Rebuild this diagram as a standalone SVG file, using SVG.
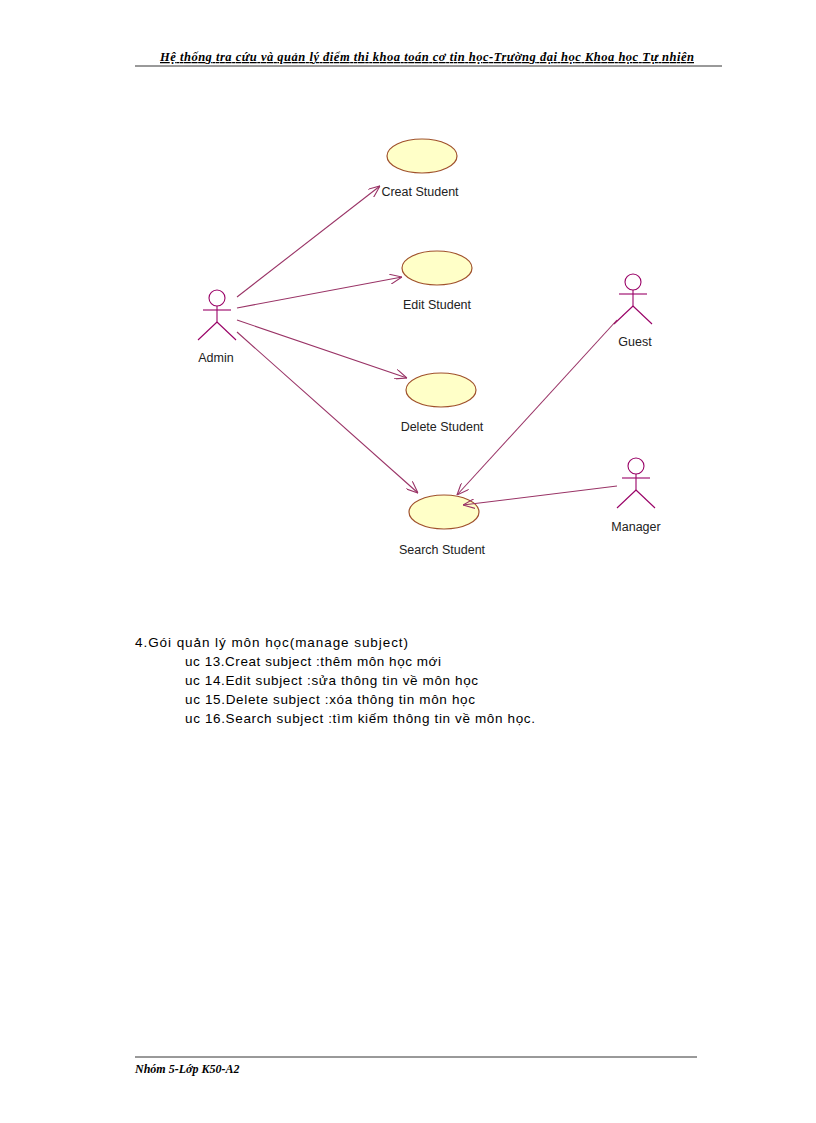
<svg xmlns="http://www.w3.org/2000/svg" width="816" height="1123" viewBox="0 0 816 1123">
<style>
.uc{fill:#ffffc8;stroke:#a0522d;stroke-width:1.2}
.act{fill:none;stroke:#990066;stroke-width:1.1}
.lbl{font-family:"Liberation Sans",Arial,sans-serif;font-size:12.5px;fill:#222}
.body{font-family:"Liberation Sans",Arial,sans-serif;font-size:13.5px;fill:#000}
.con{stroke:#993366;stroke-width:1.1;fill:none;marker-end:url(#ah)}
</style>
<defs><marker id="ah" viewBox="0 0 12 10" refX="12" refY="5" markerWidth="12" markerHeight="10" markerUnits="userSpaceOnUse" orient="auto"><path d="M0,0 L12,5 L0,10" fill="none" stroke="#993366" stroke-width="1.1"/></marker></defs>
<rect width="816" height="1123" fill="#fff"/>
<text x="160" y="61" textLength="534" lengthAdjust="spacing" font-family="Liberation Serif,serif" font-size="12.5" font-weight="bold" font-style="italic" text-decoration="underline">Hệ thống tra cứu và quản lý điểm thi khoa toán cơ tin học-Trường  đại học Khoa học  Tự nhiên</text>
<line x1="135" y1="66" x2="722" y2="66" stroke="#000" stroke-width="0.8"/>
<g id="creat"><ellipse class="uc" cx="422" cy="156" rx="35" ry="17"/><text class="lbl" x="420" y="196" text-anchor="middle">Creat Student</text></g>
<g id="edit"><ellipse class="uc" cx="437" cy="268" rx="35" ry="17"/><text class="lbl" x="437" y="309" text-anchor="middle">Edit Student</text></g>
<g id="delete"><ellipse class="uc" cx="441" cy="390" rx="35" ry="17"/><text class="lbl" x="442" y="431" text-anchor="middle">Delete Student</text></g>
<g id="search"><ellipse class="uc" cx="444" cy="512" rx="35" ry="17"/><text class="lbl" x="442" y="554" text-anchor="middle">Search Student</text></g>
<g id="admin" class="act"><circle cx="217" cy="298" r="8"/><line x1="217" y1="306" x2="217" y2="322"/><line x1="203" y1="310" x2="231" y2="310"/><line x1="217" y1="322" x2="198" y2="340"/><line x1="217" y1="322" x2="236" y2="340"/><text class="lbl" x="216" y="362" text-anchor="middle" stroke="none">Admin</text></g>
<g id="guest" class="act"><circle cx="633" cy="282" r="8"/><line x1="633" y1="290" x2="633" y2="306"/><line x1="619" y1="294" x2="647" y2="294"/><line x1="633" y1="306" x2="614" y2="324"/><line x1="633" y1="306" x2="652" y2="324"/><text class="lbl" x="635" y="346" text-anchor="middle" stroke="none">Guest</text></g>
<g id="manager" class="act"><circle cx="636" cy="466" r="8"/><line x1="636" y1="474" x2="636" y2="490"/><line x1="622" y1="478" x2="650" y2="478"/><line x1="636" y1="490" x2="617" y2="508"/><line x1="636" y1="490" x2="655" y2="508"/><text class="lbl" x="636" y="531" text-anchor="middle" stroke="none">Manager</text></g>
<g id="connectors">
<line class="con" x1="237" y1="297" x2="380" y2="186"/>
<line class="con" x1="237" y1="308" x2="402" y2="277"/>
<line class="con" x1="237" y1="320" x2="407" y2="378"/>
<line class="con" x1="237" y1="332" x2="418" y2="493"/>
<line class="con" x1="617" y1="320" x2="457" y2="495"/>
<line class="con" x1="617" y1="486" x2="463" y2="505"/>
</g>
<text class="body" x="135" y="647" textLength="273" lengthAdjust="spacing">4.Gói quản lý môn học(manage  subject)</text>
<text class="body" x="185" y="666" textLength="256" lengthAdjust="spacing">uc 13.Creat subject :thêm  môn học mới</text>
<text class="body" x="185" y="685" textLength="293" lengthAdjust="spacing">uc 14.Edit subject :sửa thông tin về môn học</text>
<text class="body" x="185" y="704" textLength="290" lengthAdjust="spacing">uc 15.Delete subject :xóa thông tin môn học</text>
<text class="body" x="185" y="723" textLength="350" lengthAdjust="spacing">uc 16.Search subject :tìm  kiếm thông tin về môn học.</text>
<line x1="135" y1="1057" x2="697" y2="1057" stroke="#000" stroke-width="0.8"/>
<text x="135" y="1073" font-family="Liberation Serif,serif" font-size="12" font-weight="bold" font-style="italic">Nhóm  5-Lớp K50-A2</text>
</svg>
